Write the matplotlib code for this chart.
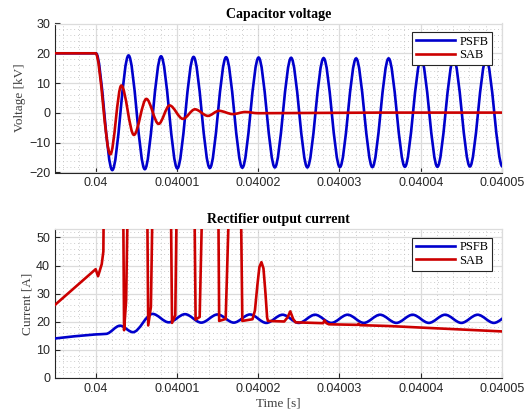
import numpy as np
import matplotlib
matplotlib.use('Agg')
import matplotlib.pyplot as plt
from matplotlib.path import Path
from matplotlib.patches import PathPatch
from matplotlib.ticker import FixedLocator, MultipleLocator, FuncFormatter

T0 = 0.04  # s, time of the fault; sample times below are in microseconds after T0

# capacitor voltage [kV], turning points
psfb_v_t = [-5.2, 0.05, 2.05, 4.05, 6.05, 8.05, 10.05, 12.05, 14.05, 16.05, 18.05,
            20.05, 22.05, 24.05, 26.05, 28.05, 30.05, 32.05, 34.05, 36.05, 38.05,
            40.05, 42.05, 44.05, 46.05, 48.05, 50.05, 52.05]
psfb_v = [20.0, 20.0, -19.2, 19.3, -18.9, 19.0, -18.65, 18.8, -18.5, 18.7, -18.4,
          18.6, -18.3, 18.5, -18.3, 18.4, -18.2, 18.3, -18.2, 18.3, -18.1,
          18.2, -18.1, 18.2, -18.0, 18.1, -18.0, 18.0]

sab_v_t = [-5.2, 0.0, 1.81, 3.16, 4.71, 6.24, 7.75, 9.1, 10.74, 12.22, 13.81,
           15.17, 16.89, 18.4, 20.0, 35.0, 52.0]
sab_v = [20.0, 20.0, -13.9, 9.2, -7.4, 4.7, -3.7, 2.5, -2.0, 1.2, -1.0,
         0.7, -0.4, 0.3, -0.1, 0.1, 0.1]

# rectifier output current [A]
psfb_i_t = [-5.2, 0.0, 1.3, 3.0, 4.6, 7.0, 9.0, 11.0, 13.0, 15.0, 17.0, 19.0,
            21.0, 23.0, 25.0, 27.0, 29.0, 31.0, 33.0, 35.0, 37.0, 39.0, 41.0,
            43.0, 45.0, 47.0, 49.0, 51.0, 53.0]
psfb_i = [14.0, 15.5, 15.7, 18.6, 16.3, 22.8, 19.8, 22.7, 19.7, 22.6, 19.7, 22.6,
          19.6, 22.5, 19.6, 22.5, 19.6, 22.5, 19.6, 22.5, 19.6, 22.5, 19.6,
          22.5, 19.6, 22.5, 19.6, 22.5, 19.6]

sab_i_t = [-5.2, 0.0, 0.3, 0.75, 0.95, 1.05,
           3.35, 3.5, 3.75, 4.05,
           6.3, 6.47, 6.8, 7.1,
           9.2, 9.4, 9.8, 10.05,
           12.1, 12.3, 12.8, 13.25,
           15.05, 15.2, 16.0, 16.6,
           17.8, 18.05, 19.3, 19.6, 19.9, 20.15, 20.4, 20.65, 20.9, 21.1, 21.2,
           23.2, 23.6, 23.95, 24.3, 24.6, 28.0, 28.15, 28.4, 28.7,
           32.2, 32.35, 32.5, 36.0, 41.0, 50.5]
sab_i = [25.5, 38.7, 36.2, 40.5, 45.0, 80.0,
         80.0, 17.0, 27.5, 80.0,
         80.0, 18.7, 25.3, 80.0,
         80.0, 19.6, 22.3, 80.0,
         80.0, 20.8, 21.7, 80.0,
         80.0, 20.3, 21.0, 80.0,
         80.0, 20.3, 20.9, 24.0, 33.0, 39.5, 41.2, 39.0, 30.0, 21.5, 20.3,
         20.1, 21.5, 23.7, 21.0, 19.8, 19.5, 20.5, 19.5, 19.1,
         18.9, 19.3, 18.8, 18.5, 17.8, 16.5]

x_ticks = [0.04, 0.04001, 0.04002, 0.04003, 0.04004, 0.04005]
x_lim = (0.039995, 0.04005)

BLUE = '#0000cc'
RED = '#cc0000'
INK = '#262626'
SERIF = 'Liberation Serif'
SANS = 'Liberation Sans'


def to_seconds(t_us):
    return T0 + np.asarray(t_us, float) * 1e-6


def smooth_path(t_us, vals):
    """Monotone cubic (Bezier) curve through the given points."""
    x = to_seconds(t_us)
    y = np.asarray(vals, float)
    h = np.diff(x)
    d = np.diff(y) / h
    m = np.zeros_like(y)
    m[0], m[-1] = d[0], d[-1]
    for k in range(1, len(y) - 1):
        if d[k - 1] * d[k] > 0:
            w1 = 2 * h[k] + h[k - 1]
            w2 = h[k] + 2 * h[k - 1]
            m[k] = (w1 + w2) / (w1 / d[k - 1] + w2 / d[k])
    verts = [(x[0], y[0])]
    codes = [Path.MOVETO]
    for k in range(len(h)):
        verts += [(x[k] + h[k] / 3, y[k] + m[k] * h[k] / 3),
                  (x[k + 1] - h[k] / 3, y[k + 1] - m[k + 1] * h[k] / 3),
                  (x[k + 1], y[k + 1])]
        codes += [Path.CURVE4] * 3
    return Path(verts, codes)


def add_curve(ax, t_us, vals, color, z):
    patch = PathPatch(smooth_path(t_us, vals), fill=False, edgecolor=color,
                      lw=1.9, capstyle='round', joinstyle='round', zorder=z)
    ax.add_patch(patch)


def style_axes(ax, ylim, ystep):
    ax.set_xlim(*x_lim)
    ax.set_ylim(*ylim)
    ax.xaxis.set_major_locator(FixedLocator(x_ticks))
    ax.xaxis.set_minor_locator(MultipleLocator(2e-6))
    ax.xaxis.set_major_formatter(FuncFormatter(lambda v, _: f'{v:.5f}'.rstrip('0')))
    ax.yaxis.set_major_locator(MultipleLocator(ystep))
    ax.yaxis.set_minor_locator(MultipleLocator(2))
    ax.grid(which='major', color='#dcdcdc', lw=0.9, ls='-')
    ax.grid(which='minor', color='#bcbcbc', lw=0.6, ls=(0, (1, 3.5)))
    ax.set_axisbelow(True)
    ax.tick_params(which='major', direction='in', length=3.5, width=0.8,
                   color=INK, labelcolor=INK, labelsize=9, pad=3.5)
    ax.tick_params(which='minor', length=0)
    for lab in ax.get_xticklabels() + ax.get_yticklabels():
        lab.set_family(SANS)
    for side in ('left', 'bottom'):
        ax.spines[side].set_color(INK)
        ax.spines[side].set_linewidth(0.8)
    for side in ('top', 'right'):
        ax.spines[side].set_color('#dcdcdc')
        ax.spines[side].set_linewidth(0.9)
    ax.plot([], [], color=BLUE, lw=1.9, label='PSFB')
    ax.plot([], [], color=RED, lw=1.9, label='SAB')
    ax.legend(loc='upper right', bbox_to_anchor=(1 - 10 / 447, 1 - 8.5 / 148),
              borderaxespad=0, fancybox=False, framealpha=1, edgecolor=INK,
              prop={'family': SERIF, 'size': 9}, handlelength=3.1,
              handletextpad=0.35, labelspacing=0.12, borderpad=0.3)
    ax.get_legend().get_frame().set_linewidth(0.8)


fig = plt.figure(figsize=(5.31, 4.12), dpi=100)
ax1 = fig.add_axes([55 / 531, 1 - 172.5 / 412, 447 / 531, 149 / 412])
ax2 = fig.add_axes([55 / 531, 1 - 378 / 412, 447 / 531, 149 / 412])

add_curve(ax1, psfb_v_t, psfb_v, BLUE, 3)
add_curve(ax1, sab_v_t, sab_v, RED, 4)
style_axes(ax1, (-20, 30), 10)
ax1.set_title('Capacitor voltage', family=SERIF, fontweight='bold', fontsize=10, pad=4)
ax1.set_ylabel('Voltage [kV]', family=SERIF, fontsize=9.5, color='#404040', labelpad=2)

add_curve(ax2, psfb_i_t, psfb_i, BLUE, 3)
ax2.plot(to_seconds(sab_i_t), sab_i, color=RED, lw=1.9, zorder=4,
         solid_joinstyle='round')
style_axes(ax2, (0, 53), 10)
ax2.set_title('Rectifier output current', family=SERIF, fontweight='bold', fontsize=10, pad=4)
ax2.set_ylabel('Current [A]', family=SERIF, fontsize=9.5, color='#404040', labelpad=2)
ax2.set_xlabel('Time [s]', family=SERIF, fontsize=9.5, color='#404040', labelpad=2)

fig.savefig('out.png', dpi=100)
